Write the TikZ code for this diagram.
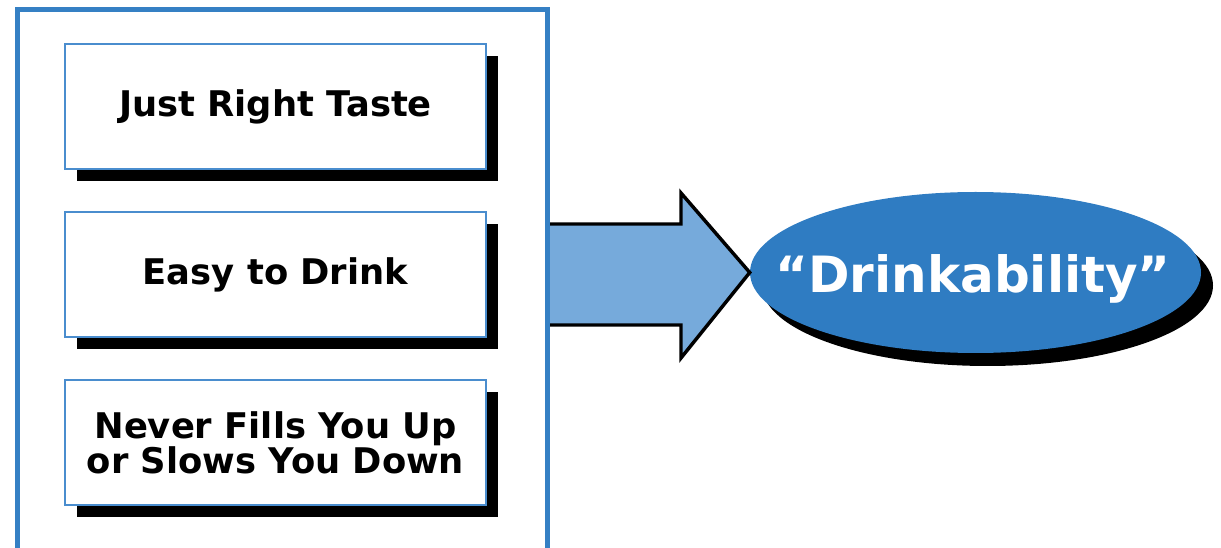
\documentclass[tikz,border=0pt]{standalone}
\usepackage{fontspec}
\setmainfont{DejaVu Sans}
\usetikzlibrary{shapes.geometric,shadows}
\definecolor{frameblue}{HTML}{3580C4}
\definecolor{boxblue}{HTML}{4A8DCE}
\definecolor{ellblue}{HTML}{2F7CC2}
\definecolor{arrblue}{HTML}{76AADB}
\begin{document}
\begin{tikzpicture}[x=0.75pt,y=-0.75pt,
  itembox/.style={draw=boxblue, line width=1.5pt, fill=white,
    minimum width=315.75pt, minimum height=93.75pt, inner sep=0pt,
    align=center, font=\bfseries\fontsize{26.5}{26}\selectfont,
    drop shadow={shadow xshift=9pt, shadow yshift=-9pt, opacity=1, fill=black}},
  goal/.style={ellipse, fill=ellblue, inner sep=0pt,
    minimum width=338.25pt, minimum height=120.75pt,
    drop shadow={shadow xshift=9pt, shadow yshift=-9.75pt, opacity=1, fill=black}},
  goaltext/.style={text=white, inner sep=0pt, font=\bfseries\fontsize{37.5}{37.5}\selectfont},
  bigarrow/.style={fill=arrblue},
  arrowline/.style={draw=black, line width=2.6pt, line join=miter},
  frame/.style={draw=frameblue, line width=3.75pt}
]
\useasboundingbox (0,0) rectangle (1221,548);
\clip (0,0) rectangle (1221,548);

% goal ellipse
\node[goal] (ell) at (975.5,272.5) {};
\node[goaltext] (elltext) at (973,279) {“Drinkability”};

% block arrow from frame to ellipse
\coordinate (tip) at (ell.west);
\fill[bigarrow] (546,224) -- (681,224) -- (681,193) -- (tip) -- (681,358) -- (681,325) -- (546,325) -- cycle;
\draw[arrowline] (546,224) -- (681,224) -- (681,193) -- (tip) -- (681,358) -- (681,325) -- (546,325);

% outer frame
\draw[frame] (17,10) rectangle (547,620);

% item boxes
\node[itembox] (b1) at (275.5,106.5) {Just Right Taste};
\node[itembox] (b2) at (275.5,274.5) {Easy to Drink};
\node[itembox] (b3) at (275.5,443) {Never Fills You Up\\or Slows You Down};
\end{tikzpicture}
\end{document}
